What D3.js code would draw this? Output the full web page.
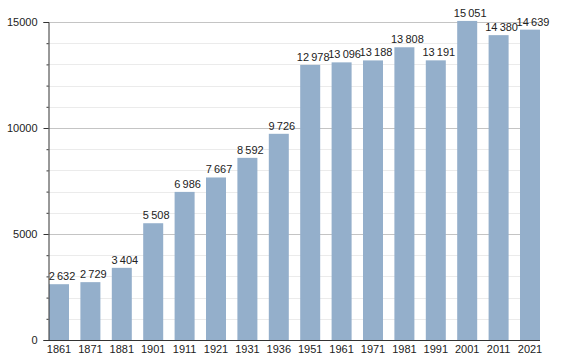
<!DOCTYPE html>
<html><head><meta charset="utf-8">
<script src="https://cdn.jsdelivr.net/npm/d3@7"></script>
<style>body{margin:0;background:#fff}svg{display:block}text{font-family:"Liberation Sans",Arial,sans-serif;fill:#222}</style>
</head><body><svg id="c" width="568" height="360"></svg>
<script>
const years = ["1861","1871","1881","1901","1911","1921","1931","1936","1951","1961","1971","1981","1991","2001","2011","2021"];
const population = [2632,2729,3404,5508,6986,7667,8592,9726,12978,13096,13188,13808,13191,15051,14380,14639];
const yTicks = [0,5000,10000,15000];

const svg = d3.select("#c");
const x0 = 49, x1 = 540, yb = 340, yt = 22;
const x = d3.scaleBand().domain(years).range([x0, x1]).paddingInner(0.363).paddingOuter(0);
const y = d3.scaleLinear().domain([0,15000]).range([yb, yt]);
const fmt = v => d3.format(",")(v).replace(/,/g, "\u2009");

// gridlines
const minor = d3.range(1000, 15001, 1000);
svg.append("g").selectAll("line").data(minor).join("line")
  .attr("x1", 48).attr("x2", x1)
  .attr("y1", d => Math.round(y(d)) + 0.5).attr("y2", d => Math.round(y(d)) + 0.5)
  .attr("stroke", d => d % 5000 === 0 ? "#c4c4c4" : "#ebebeb").attr("stroke-width", 1);

// bars
svg.append("g").selectAll("rect").data(population).join("rect")
  .attr("x", (d,i) => x(years[i])).attr("width", x.bandwidth())
  .attr("y", d => y(d)).attr("height", d => yb - y(d))
  .attr("fill", "#94afcb");

// value labels
svg.append("g").selectAll("text").data(population).join("text")
  .attr("x", (d,i) => x(years[i]) + x.bandwidth()/2 + 3)
  .attr("y", d => y(d) - 4)
  .attr("text-anchor", "middle").attr("font-size", 11)
  .text(d => fmt(d));

// y axis
const ya = d3.axisLeft(y).tickValues(yTicks).tickSize(5).tickPadding(6).tickFormat(d3.format("d"));
const gy = svg.append("g").attr("transform", "translate(48.5,0)").call(ya);
gy.select(".domain").attr("stroke", "#333");
gy.selectAll(".tick line").attr("stroke", "#333");
gy.selectAll("text").attr("font-size", 11).attr("font-family", "Liberation Sans, Arial, sans-serif").attr("fill", "#222");
const ym = d3.axisLeft(y).tickValues(minor.filter(d => d % 5000 !== 0)).tickSize(2).tickFormat("");
const gm = svg.append("g").attr("transform", "translate(48.5,0)").call(ym);
gm.select(".domain").remove();
gm.selectAll(".tick line").attr("stroke", "#333");

// x axis
const xa = d3.axisBottom(x).tickSize(0).tickPadding(5);
const gx = svg.append("g").attr("transform", `translate(0,${yb + 0.5})`).call(xa);
gx.select(".domain").attr("stroke", "#333").attr("d", `M48,0H${x1}`);
gx.selectAll("text").attr("font-size", 11).attr("font-family", "Liberation Sans, Arial, sans-serif").attr("fill", "#222");
</script></body></html>
